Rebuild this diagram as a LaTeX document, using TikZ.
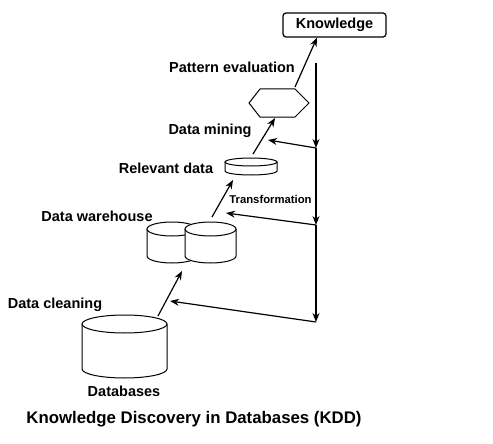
\documentclass[tikz,border=0pt]{standalone}
\usepackage{fontspec}
\setmainfont{Liberation Sans}
\usetikzlibrary{arrows.meta}
\begin{document}
\begin{tikzpicture}[x=1pt,y=-1pt,
  lbl/.style={font=\fontsize{14.5}{16}\selectfont\bfseries, inner sep=0pt},
  shp/.style={draw=black, line width=1pt, fill=white},
  arr/.style={line width=1.2pt, -{Stealth[length=9pt,width=7pt]}},
  kbox/.style={draw=black, line width=1.2pt, rounded corners=3pt, minimum width=103pt, minimum height=24pt, inner sep=0pt, font=\fontsize{14.5}{16}\selectfont\bfseries}]
\useasboundingbox (0,0) rectangle (493,444);

% Knowledge box
\node[kbox] (know) at (334.5,25) {Knowledge};

% hexagon
\draw[shp] (249,103) -- (260,89) -- (295,89) -- (309,103) -- (295,117) -- (260,117) -- cycle;
\coordinate (hexTop) at (295,87);
\coordinate (hexBot) at (275,118);

% relevant data cylinder
\draw[shp] (225,162) -- (225,171) arc[start angle=180,end angle=0,x radius=26,y radius=4] -- (277,162);
\draw[shp] (251,162) ellipse[x radius=26,y radius=4];
\coordinate (relTop) at (253,154);
\coordinate (relBot) at (233,180);

% data warehouse cylinders
\draw[shp] (147,229) -- (147,256) arc[start angle=180,end angle=0,x radius=25,y radius=7] -- (197,229);
\draw[shp] (172,229) ellipse[x radius=25,y radius=7];
\draw[shp] (185,229) -- (185,256) arc[start angle=180,end angle=0,x radius=25.5,y radius=7] -- (236,229);
\draw[shp] (210.5,229) ellipse[x radius=25.5,y radius=7];
\coordinate (whTop) at (212,217);
\coordinate (whBot) at (182,271);

% databases cylinder
\draw[shp] (82,324) -- (82,369) arc[start angle=180,end angle=0,x radius=42.5,y radius=9] -- (167,324);
\draw[shp] (124.5,324) ellipse[x radius=42.5,y radius=9];
\coordinate (dbTop) at (158,316);

% vertical line points
\coordinate (v0) at (316,63);
\coordinate (v1) at (316,148);
\coordinate (v2) at (316,225);
\coordinate (v3) at (316,322);

% feedback targets
\coordinate (f1) at (268,140);
\coordinate (f2) at (226,213);
\coordinate (f3) at (170,301);

% main arrows
\draw[arr] (hexTop) -- (know.south -| 317,0);
\draw[arr] (relTop) -- (hexBot);
\draw[arr] (whTop) -- (relBot);
\draw[arr] (dbTop) -- (whBot);

% vertical line with arrows
\draw[arr] (v0) -- (v1);
\draw[arr] (v1) -- (v2);
\draw[arr] (v2) -- (v3);

% feedback arrows
\draw[arr] (v1) -- (f1);
\draw[arr] (v2) -- (f2);
\draw[arr] (v3) -- (f3);

% labels
\node[lbl] (lpe) at (232,67) {Pattern evaluation};
\node[lbl] (ldm) at (210,131) {Data mining};
\node[lbl] (lrd) at (166,168) {Relevant data};
\node[lbl, font=\fontsize{11.3}{13}\selectfont\bfseries] (ltr) at (270.5,199) {Transformation};
\node[lbl] (ldw) at (97,216) {Data warehouse};
\node[lbl] (ldc) at (55,305) {Data cleaning};
\node[lbl] (ldb) at (124,391) {Databases};
\node[lbl, font=\fontsize{16.8}{19}\selectfont\bfseries] (title) at (194,419) {Knowledge Discovery in Databases (KDD)};
\end{tikzpicture}
\end{document}
